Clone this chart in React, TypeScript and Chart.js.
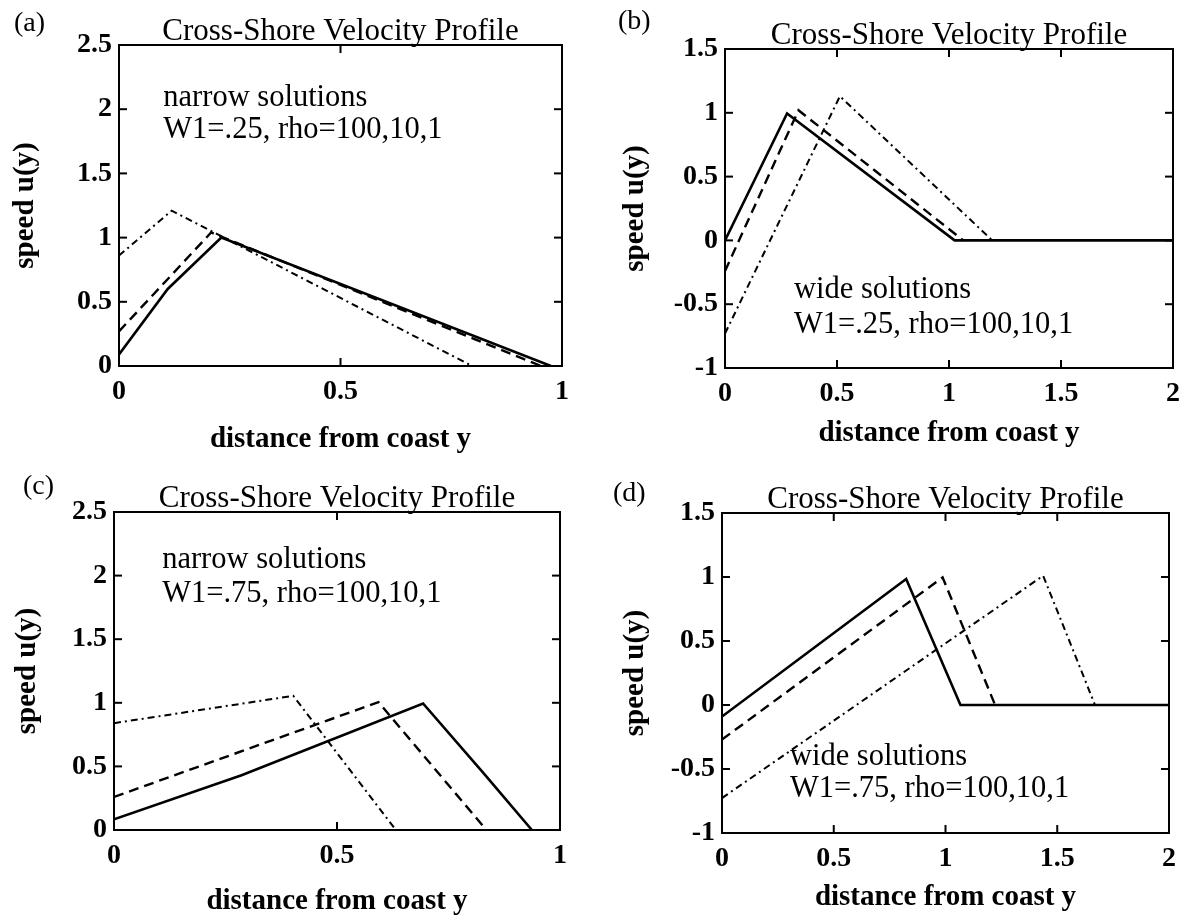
import React, { useEffect, useRef } from 'react';
import { Chart, registerables } from 'chart.js';

Chart.register(...registerables);

const FONT = "'Liberation Serif', 'Times New Roman', Times, serif";

// ---- Panel (a): narrow solutions, W1=.25 ----
const aSolidX = [0, 0.11, 0.231, 0.975];
const aSolidY = [0.09, 0.6, 1.0, 0];
const aDashX = [0, 0.208, 0.953];
const aDashY = [0.27, 1.04, 0];
const aDotX = [0, 0.119, 0.797];
const aDotY = [0.86, 1.21, 0];

// ---- Panel (b): wide solutions, W1=.25 ----
const bSolidX = [0, 0.277, 1.025, 2];
const bSolidY = [0, 0.995, 0, 0];
const bDashX = [0, 0.328, 1.064];
const bDashY = [-0.24, 1.02, 0];
const bDotX = [0, 0.513, 1.193];
const bDotY = [-0.73, 1.13, 0];

// ---- Panel (c): narrow solutions, W1=.75 ----
const cSolidX = [0, 0.286, 0.693, 0.829, 0.937];
const cSolidY = [0.084, 0.43, 0.995, 0.445, 0];
const cDashX = [0, 0.593, 0.835];
const cDashY = [0.26, 1.005, 0];
const cDotX = [0, 0.402, 0.632];
const cDotY = [0.84, 1.055, 0];

// ---- Panel (d): wide solutions, W1=.75 ----
const dSolidX = [0, 0.824, 1.067, 2];
const dSolidY = [-0.09, 0.985, 0, 0];
const dDashX = [0, 0.987, 1.222];
const dDashY = [-0.27, 0.997, 0];
const dDotX = [0, 1.437, 1.669];
const dDotY = [-0.727, 1.01, 0];

const panelTitle = 'Cross-Shore Velocity Profile';
const xAxisTitle = 'distance from coast y';
const yAxisTitle = 'speed u(y)';
const panelLabels = ['(a)', '(b)', '(c)', '(d)'];
const notesA = ['narrow solutions', 'W1=.25, rho=100,10,1'];
const notesB = ['wide solutions', 'W1=.25, rho=100,10,1'];
const notesC = ['narrow solutions', 'W1=.75, rho=100,10,1'];
const notesD = ['wide solutions', 'W1=.75, rho=100,10,1'];

type Series = { xs: number[]; ys: number[]; kind: 'solid' | 'dash' | 'dashdot' };

type Panel = {
  left: number; top: number; w: number; h: number;
  plot: { l: number; t: number; r: number; b: number };
  xMax: number; yMin: number; yMax: number;
  series: Series[];
  label: string; labelX: number; labelY: number;
  notes: string[]; noteX: number; noteY: number[];
  xTitlePad: number; yTitlePad: number;
};

const panels: Panel[] = [
  {
    left: 0, top: 0, w: 591, h: 459,
    plot: { l: 119, t: 45, r: 562, b: 366 },
    xMax: 1, yMin: 0, yMax: 2.5,
    series: [
      { xs: aSolidX, ys: aSolidY, kind: 'solid' },
      { xs: aDashX, ys: aDashY, kind: 'dash' },
      { xs: aDotX, ys: aDotY, kind: 'dashdot' },
    ],
    label: panelLabels[0], labelX: 14, labelY: 31,
    notes: notesA, noteX: 0.1, noteY: [2.025, 1.776],
    xTitlePad: 2, yTitlePad: 8,
  },
  {
    left: 591, top: 0, w: 620, h: 459,
    plot: { l: 134, t: 49, r: 582, b: 368 },
    xMax: 2, yMin: -1, yMax: 1.5,
    series: [
      { xs: bSolidX, ys: bSolidY, kind: 'solid' },
      { xs: bDashX, ys: bDashY, kind: 'dash' },
      { xs: bDotX, ys: bDotY, kind: 'dashdot' },
    ],
    label: panelLabels[1], labelX: 27, labelY: 29,
    notes: notesB, noteX: 0.308, noteY: [-0.451, -0.726],
    xTitlePad: 8, yTitlePad: 27,
  },
  {
    left: 0, top: 459, w: 591, h: 460,
    plot: { l: 114, t: 53, r: 560, b: 371 },
    xMax: 1, yMin: 0, yMax: 2.5,
    series: [
      { xs: cSolidX, ys: cSolidY, kind: 'solid' },
      { xs: cDashX, ys: cDashY, kind: 'dash' },
      { xs: cDotX, ys: cDotY, kind: 'dashdot' },
    ],
    label: panelLabels[2], labelX: 23, labelY: 35,
    notes: notesC, noteX: 0.108, noteY: [2.06, 1.79],
    xTitlePad: 0, yTitlePad: 10,
  },
  {
    left: 591, top: 459, w: 620, h: 460,
    plot: { l: 131, t: 54, r: 578, b: 374 },
    xMax: 2, yMin: -1, yMax: 1.5,
    series: [
      { xs: dSolidX, ys: dSolidY, kind: 'solid' },
      { xs: dDashX, ys: dDashY, kind: 'dash' },
      { xs: dDotX, ys: dDotY, kind: 'dashdot' },
    ],
    label: panelLabels[3], labelX: 22, labelY: 42,
    notes: notesD, noteX: 0.304, noteY: [-0.469, -0.719],
    xTitlePad: 4, yTitlePad: 27,
  },
];

const styleFor = (kind: Series['kind']) => {
  if (kind === 'solid') return { borderWidth: 2.6, borderDash: [] as number[] };
  if (kind === 'dash') return { borderWidth: 2.4, borderDash: [10, 6] };
  return { borderWidth: 2, borderDash: [7, 4, 2, 4] };
};

const fmtTick = (v: number | string) => String(Math.round(Number(v) * 100) / 100);

const framePlugin = {
  id: 'frameText',
  afterDatasetsDraw(chart: any, _args: any, opts: any) {
    const { ctx, chartArea: ca, scales } = chart;
    ctx.save();
    ctx.strokeStyle = '#000';
    ctx.lineWidth = 2;
    ctx.setLineDash([]);
    ctx.strokeRect(ca.left, ca.top, ca.right - ca.left, ca.bottom - ca.top);
    const L = 8;
    const seg = (x1: number, y1: number, x2: number, y2: number) => {
      ctx.beginPath();
      ctx.moveTo(x1, y1);
      ctx.lineTo(x2, y2);
      ctx.stroke();
    };
    scales.x.ticks.forEach((t: any) => {
      const px = scales.x.getPixelForValue(t.value);
      if (px <= ca.left + 1 || px >= ca.right - 1) return;
      seg(px, ca.bottom, px, ca.bottom - L);
      seg(px, ca.top, px, ca.top + L);
    });
    scales.y.ticks.forEach((t: any) => {
      const py = scales.y.getPixelForValue(t.value);
      if (py <= ca.top + 1 || py >= ca.bottom - 1) return;
      seg(ca.left, py, ca.left + L, py);
      seg(ca.right, py, ca.right - L, py);
    });
    ctx.fillStyle = '#000';
    ctx.textBaseline = 'alphabetic';
    ctx.textAlign = 'center';
    ctx.font = `31px ${FONT}`;
    ctx.fillText(opts.title, (ca.left + ca.right) / 2, ca.top - 5);
    ctx.textAlign = 'left';
    ctx.font = `28px ${FONT}`;
    ctx.fillText(opts.label, opts.labelX, opts.labelY);
    ctx.font = `30.5px ${FONT}`;
    const nx = scales.x.getPixelForValue(opts.noteX);
    opts.notes.forEach((s: string, i: number) => {
      ctx.fillText(s, nx, scales.y.getPixelForValue(opts.noteY[i]));
    });
    ctx.restore();
  },
};

function PanelChart({ p }: { p: Panel }) {
  const ref = useRef<HTMLCanvasElement>(null);
  useEffect(() => {
    if (!ref.current) return;
    const xH = p.h - p.plot.b;
    const yW = p.plot.l;
    const tickFont = { family: FONT, size: 28, weight: 'bold' as const };
    const titleFont = { family: FONT, size: 29, weight: 'bold' as const };
    const chart = new Chart(ref.current, {
      type: 'scatter',
      data: {
        datasets: p.series.map((s) => ({
          data: s.xs.map((x, i) => ({ x, y: s.ys[i] })),
          showLine: true,
          borderColor: '#000',
          backgroundColor: '#000',
          pointRadius: 0,
          pointHoverRadius: 0,
          tension: 0,
          ...styleFor(s.kind),
        })),
      },
      options: {
        responsive: false,
        animation: false,
        events: [],
        layout: { padding: { left: 0, top: p.plot.t, right: p.w - p.plot.r, bottom: 0 } },
        plugins: {
          legend: { display: false },
          tooltip: { enabled: false },
          frameText: {
            title: panelTitle,
            label: p.label, labelX: p.labelX, labelY: p.labelY,
            notes: p.notes, noteX: p.noteX, noteY: p.noteY,
          },
        } as any,
        scales: {
          x: {
            type: 'linear',
            min: 0,
            max: p.xMax,
            grid: { display: false, drawTicks: false },
            border: { display: false },
            ticks: { stepSize: 0.5, padding: 9, color: '#000', font: tickFont, maxRotation: 0, autoSkip: false, callback: fmtTick },
            title: { display: true, text: xAxisTitle, color: '#000', font: titleFont, padding: { top: 0, bottom: p.xTitlePad } },
            afterFit: (s: any) => { s.height = xH; },
          },
          y: {
            type: 'linear',
            min: p.yMin,
            max: p.yMax,
            grid: { display: false, drawTicks: false },
            border: { display: false },
            ticks: { stepSize: 0.5, padding: 7, color: '#000', font: tickFont, autoSkip: false, callback: fmtTick },
            title: { display: true, text: yAxisTitle, color: '#000', font: titleFont, padding: { top: p.yTitlePad, bottom: 0 } },
            afterFit: (s: any) => { s.width = yW; },
          },
        },
      },
      plugins: [framePlugin],
    } as any);
    return () => chart.destroy();
  }, [p]);
  return (
    <canvas
      ref={ref}
      width={p.w}
      height={p.h}
      style={{ position: 'absolute', left: p.left, top: p.top, width: p.w, height: p.h }}
    />
  );
}

export default function App() {
  return (
    <div style={{ position: 'absolute', left: 0, top: 0, width: 1182, height: 919, background: '#fff', overflow: 'hidden' }}>
      {panels.map((p, i) => (
        <PanelChart key={i} p={p} />
      ))}
    </div>
  );
}
